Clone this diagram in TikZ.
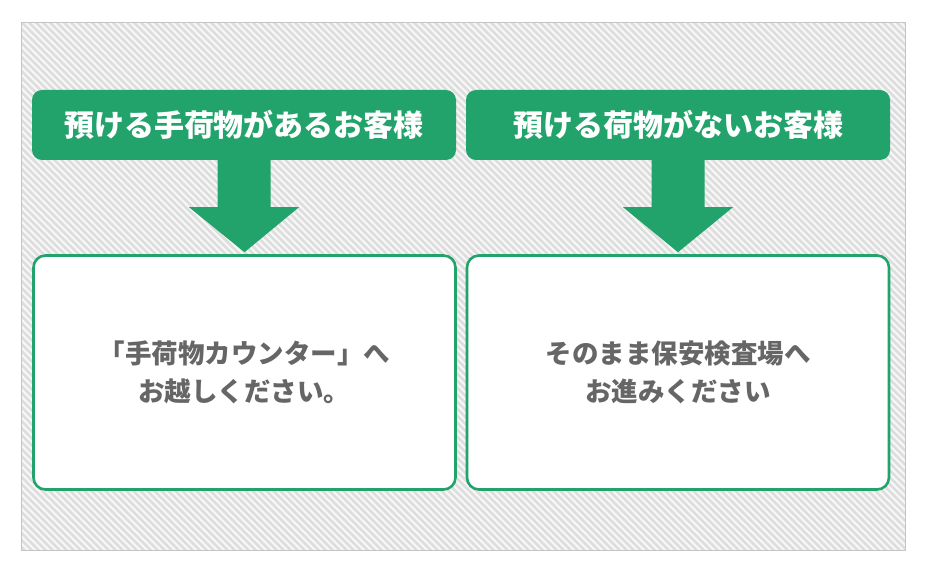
\documentclass[tikz,border=0pt]{standalone}
\usepackage{fontspec}
\newfontfamily\jp{Noto Sans CJK JP}
\usetikzlibrary{calc}
\definecolor{grn}{HTML}{22A36C}
\definecolor{txtgray}{HTML}{666666}
\definecolor{bggray}{HTML}{DEDEDE}
\definecolor{framegray}{HTML}{C4C4C4}
\tikzset{
  header/.style={fill=grn, rounded corners=10pt, minimum width=424pt, minimum height=70pt,
    inner sep=0pt, text=white, font=\jp\bfseries\fontsize{30}{35}\selectfont},
  bodybox/.style={draw=grn, line width=2.6pt, fill=white, rounded corners=12pt,
    minimum width=422pt, minimum height=234pt, inner sep=0pt, align=center,
    text=txtgray, font=\jp\bfseries\fontsize{26.5}{38}\selectfont},
  fatarrow/.style={fill=grn},
  stripe/.style={draw=white, line width=1.8pt, opacity=0.8}
}
\begin{document}
\begin{tikzpicture}[x=1pt,y=-1pt]
\useasboundingbox (0,0) rectangle (930,575);
\fill[white] (0,0) rectangle (930,575);
% striped background frame
\coordinate (fa) at (21.5,22.5);
\coordinate (fb) at (905.5,550.5);
\fill[bggray] (fa) rectangle (fb);
\begin{scope}
  \clip (fa) rectangle (fb);
  \foreach \s in {-530,-523,...,910} {
    \draw[stripe] (\s,20) -- ++(535,535);
  }
\end{scope}
\draw[framegray, line width=1pt] (fa) rectangle (fb);
% headers
\node[header] (h1) at (244,125) {預ける手荷物があるお客様};
\node[header] (h2) at (678,125) {預ける荷物がないお客様};
% boxes
\node[bodybox] (b1) at (244.5,372.5) {「手荷物カウンター」へ\\お越しください。};
\node[bodybox] (b2) at (678,372.5) {そのまま保安検査場へ\\お進みください};
% arrows
\foreach \h/\b in {h1/b1, h2/b2} {
  \fill[fatarrow] ($(\h.south)+(-26.5,-2)$) -- ($(\h.south)+(26.5,-2)$)
    -- ($(\h.south)+(26.5,47)$) -- ($(\h.south)+(55,47)$)
    -- ($(\b.north)+(0,-2)$) -- ($(\h.south)+(-55,47)$)
    -- ($(\h.south)+(-26.5,47)$) -- cycle;
}
\end{tikzpicture}
\end{document}
